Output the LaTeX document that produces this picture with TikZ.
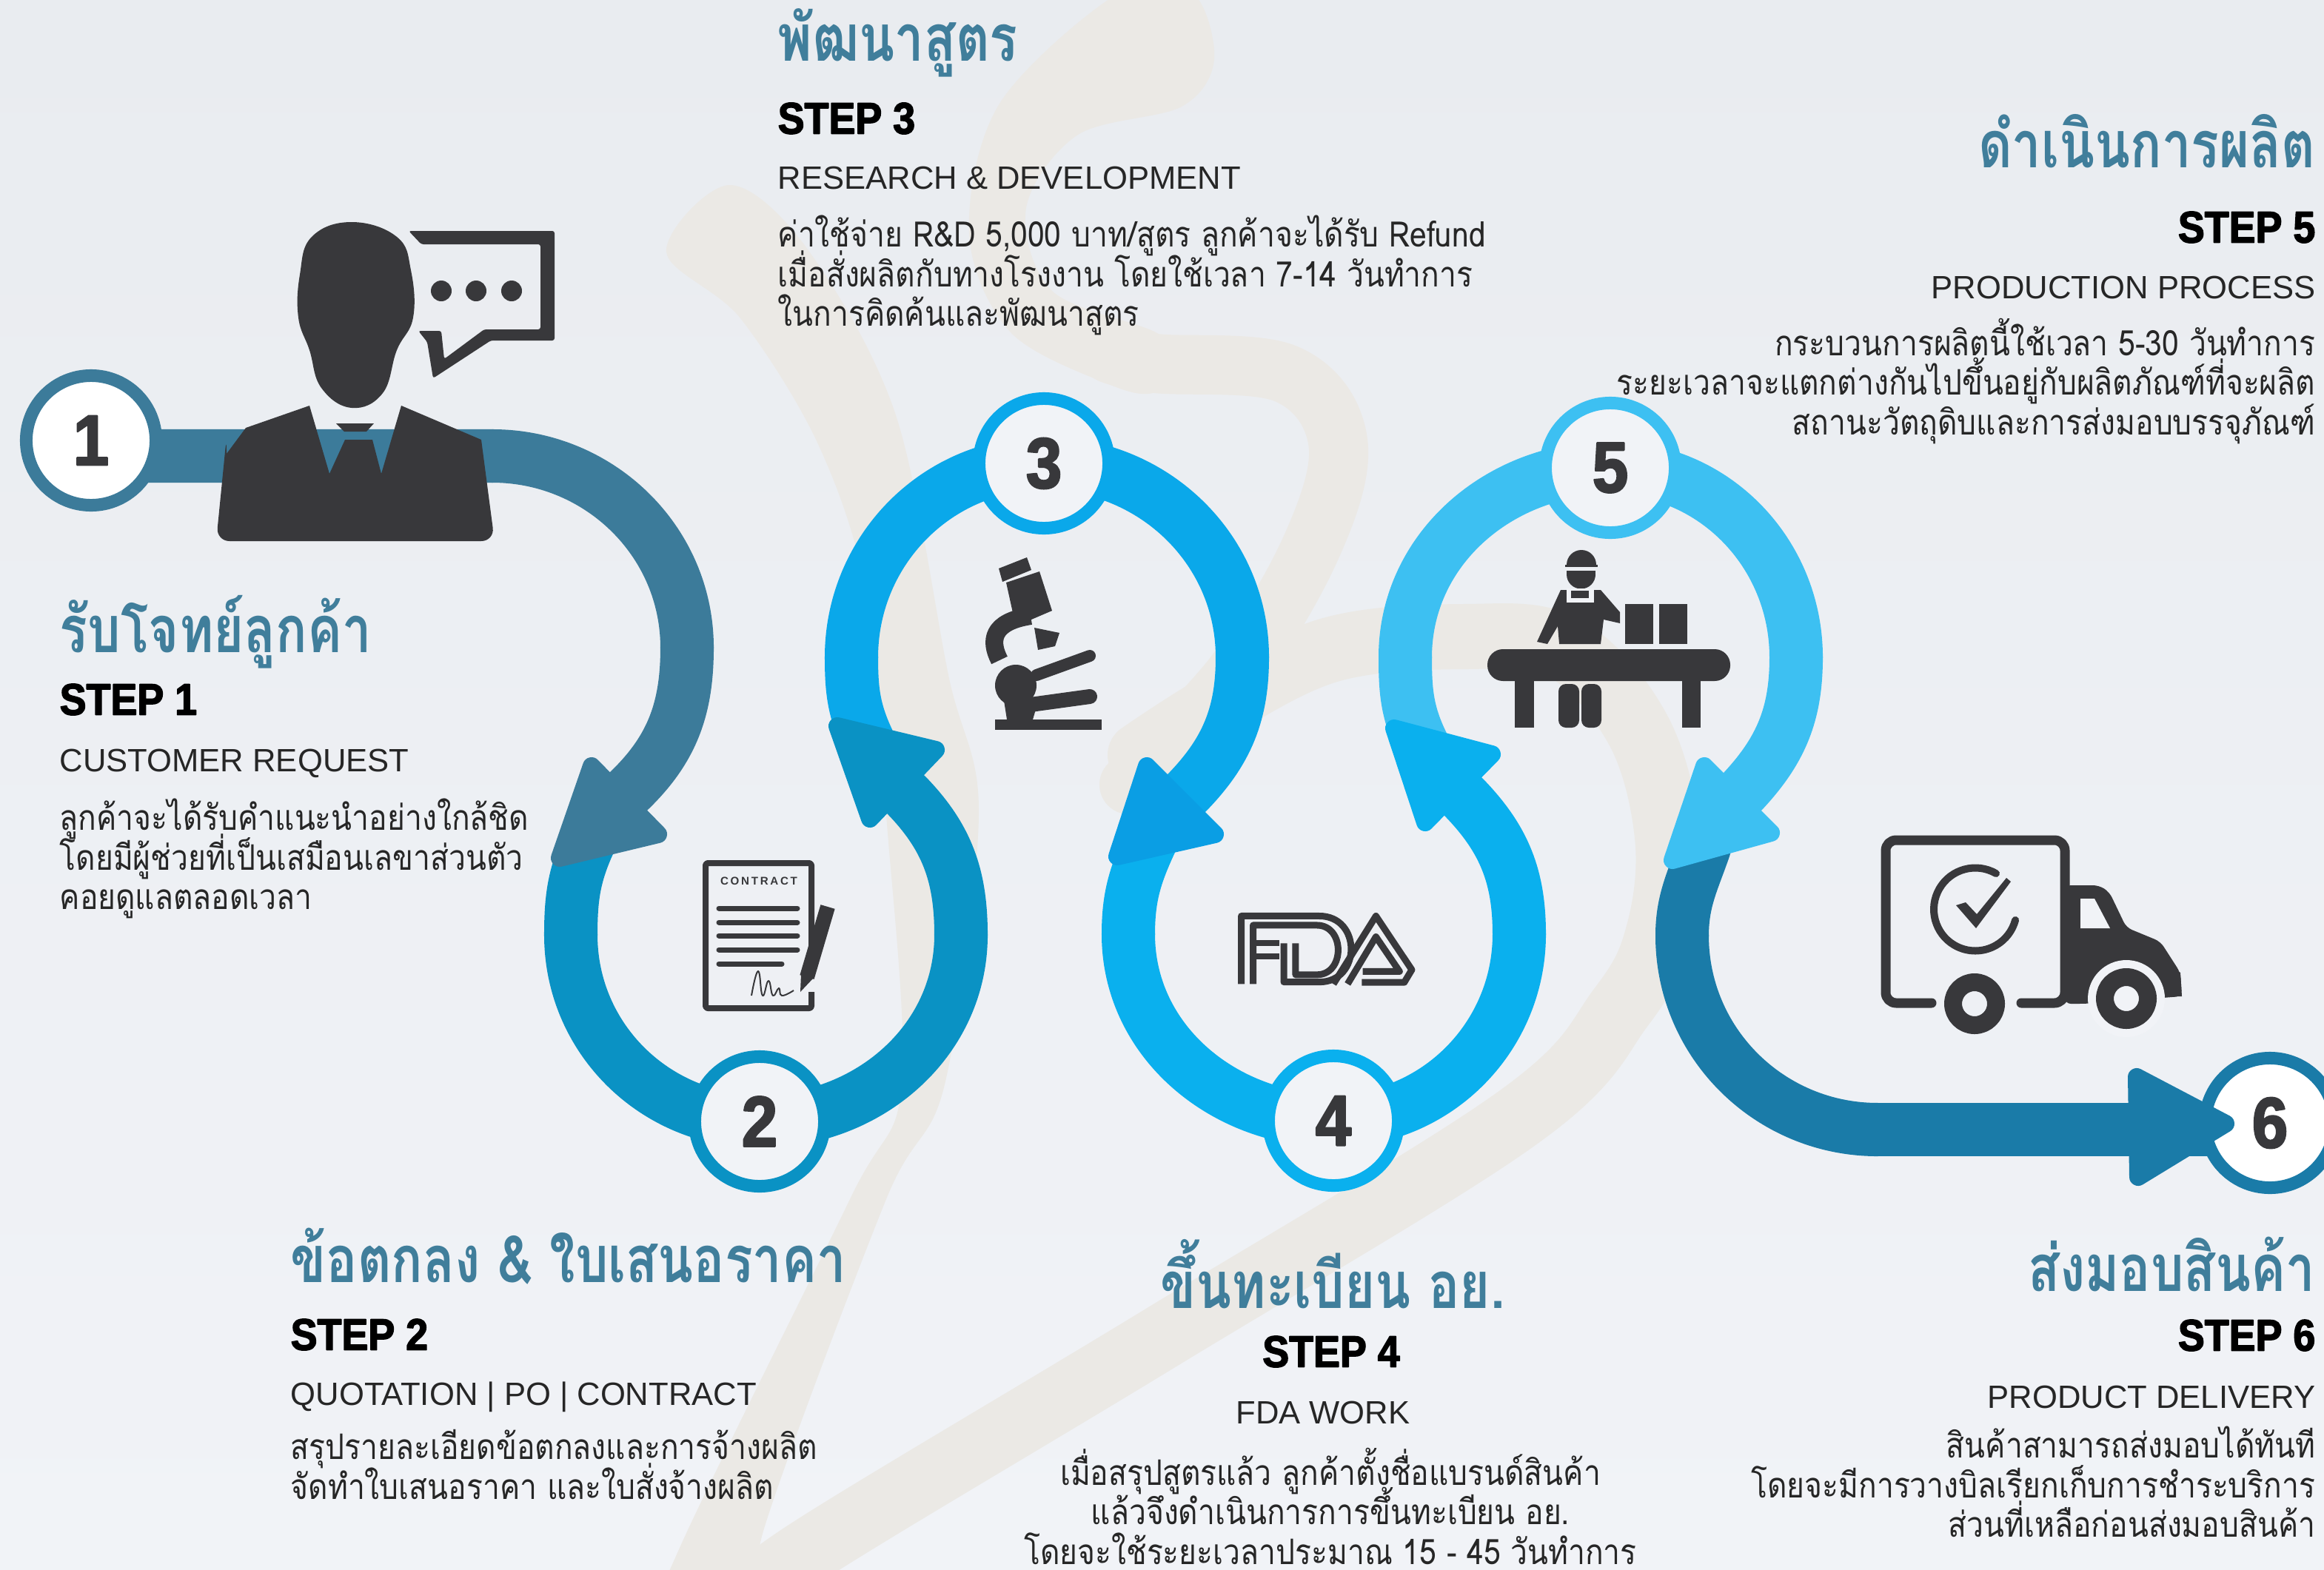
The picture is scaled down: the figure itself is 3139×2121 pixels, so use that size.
\documentclass[tikz,border=0pt]{standalone}
\usepackage{fontspec}
\setmainfont{Liberation Sans}
\newfontfamily\thaifont[Script=Thai,FakeStretch=.86]{Loma}
\newfontfamily\thaihead[Script=Thai,FakeStretch=.8]{Loma}
\newfontfamily\stepfont[FakeStretch=.9,FakeBold=2.5]{Liberation Sans}
\newcommand{\bodyfont}{\thaifont\fontsize{13.5}{15.3}\selectfont\setlength{\lineskiplimit}{-30pt}}
\usetikzlibrary{backgrounds}

\definecolor{paper}{HTML}{E9ECF0}
\definecolor{holefill}{HTML}{F1F3F7}
\definecolor{markcol}{HTML}{EBE9E5}
\definecolor{ink}{HTML}{38383B}
\definecolor{headcol}{HTML}{407E9B}
\definecolor{cone}{HTML}{3C7B9A}
\definecolor{ctwo}{HTML}{0A92C4}
\definecolor{cthree}{HTML}{0AA8EA}
\definecolor{cthreetip}{HTML}{0A9EE4}
\definecolor{cfour}{HTML}{0AB0EE}
\definecolor{cfive}{HTML}{3DC0F2}
\definecolor{csix}{HTML}{1A7BA8}

\begin{document}
\begin{tikzpicture}[x=.01cm,y=-.01cm,line join=round]
  \tikzstyle{every number}=[circle,inner sep=0pt,minimum size=1.75cm,line width=.17cm,font=\stepfont\bfseries\fontsize{27.5}{30}\selectfont,text=ink]
  \tikzstyle{band}=[line width=.72cm,line cap=round]
  \tikzstyle{tip}=[line width=.24cm]
  \tikzstyle{headtext}=[inner sep=0pt,text=headcol,font=\thaihead\bfseries\fontsize{25}{28}\selectfont]
  \tikzstyle{steptext}=[inner sep=0pt,text=black,font=\stepfont\bfseries\fontsize{17}{20}\selectfont]
  \tikzstyle{subtext}=[inner sep=0pt,text=black!85,font=\fontsize{12.4}{14}\selectfont]
  \tikzstyle{bodytext}=[inner sep=0pt,text=black!85,font=\bodyfont]

  \useasboundingbox (0,0) rectangle (3139,2121);

  \node[every number,draw=cone,fill=white]     (s1) at (123,595)   {1};
  \node[every number,draw=ctwo,fill=holefill]  (s2) at (1026,1515) {2};
  \node[every number,draw=cthree,fill=holefill](s3) at (1410,626)  {3};
  \node[every number,draw=cfour,fill=holefill] (s4) at (1801,1514) {4};
  \node[every number,draw=cfive,fill=holefill] (s5) at (2175,632)  {5};
  \node[every number,draw=csix,fill=white]     (s6) at (3066,1517) {6};

  \coordinate (a1) at ([yshift=-.21cm]s1.center);
  \coordinate (t1) at (665,616);
  \coordinate (r1) at (928,875);
  \coordinate (h1) at (850,1068);
  \coordinate (a2) at (797,1135);
  \coordinate (l2) at (771,1263);
  \coordinate (r2) at (1298,1263);
  \coordinate (h2) at (1225,1075);
  \coordinate (a3) at (1172,1000);
  \coordinate (l3) at (1150,888);
  \coordinate (r3) at (1678,888);
  \coordinate (h3) at (1604,1070);
  \coordinate (a4) at (1555,1135);
  \coordinate (l4) at (1524,1262);
  \coordinate (r4) at (2052,1262);
  \coordinate (h4) at (1978,1078);
  \coordinate (a5) at (1921,1005);
  \coordinate (l5) at (1898,888);
  \coordinate (r5) at (2426,888);
  \coordinate (h5) at (2354,1069);
  \coordinate (a6) at (2302,1145);
  \coordinate (l6) at (2272,1264);
  \coordinate (b6) at (2536,1526);

  \begin{scope}[on background layer]
    \fill[top color=paper,bottom color=holefill] (0,0) rectangle (3139,2121);

    % the pale mark behind everything
    \fill[markcol] plot[smooth cycle,tension=.55] coordinates {(900,340) (985,250) (1091,337) (1210,561) (1281,912) (1322,1100) (1276,1465) (1197,1620) (1032,2065) (1020,2200) (890,2200) (918,2091) (1148,1620) (1218,1465) (1197,1100) (1170,800) (1105,600) (1000,430)};
    \fill[markcol] plot[smooth cycle,tension=.55] coordinates {(1512,-10) (1350,140) (1309,316) (1365,449) (1500,520) (1561,530) (1600,490) (1561,449) (1421,393) (1386,281) (1456,182) (1596,144) (1640,80) (1610,-10)};
    \draw[markcol,line width=.8cm,line cap=round] plot[smooth,tension=.6] coordinates {(1500,478) (1561,491) (1737,505) (1807,596) (1772,737) (1667,912) (1525,1060)};
    \draw[markcol,line width=.88cm,line cap=round] plot[smooth,tension=.6] coordinates {(1540,1020) (1650,950) (1800,877) (1979,860) (2112,875) (2212,985) (2252,1130) (2240,1260) (2190,1360) (2050,1510) (1570,1806) (1100,2090) (1000,2170)};

    \path (a1) edge [band,cone] (t1)
          (t1) edge [band,cone,out=0,in=90] (r1)
          (r1) edge [band,cone,out=-90,in=44] (h1)
          (a2) edge [band,ctwo,out=245,in=90] (l2)
          (l2) edge [band,ctwo,out=-90,in=180] (s2.center)
          (s2.center) edge [band,ctwo,out=0,in=-90] (r2)
          (r2) edge [band,ctwo,out=90,in=-46] (h2)
          (a3) edge [band,cthree,out=115,in=-90] (l3)
          (l3) edge [band,cthree,out=90,in=180] (s3.center)
          (s3.center) edge [band,cthree,out=0,in=90] (r3)
          (r3) edge [band,cthree,out=-90,in=46] (h3)
          (a4) edge [band,cfour,out=245,in=90] (l4)
          (l4) edge [band,cfour,out=-90,in=180] (s4.center)
          (s4.center) edge [band,cfour,out=0,in=-90] (r4)
          (r4) edge [band,cfour,out=90,in=-46] (h4)
          (a5) edge [band,cfive,out=116,in=-90] (l5)
          (l5) edge [band,cfive,out=90,in=180] (s5.center)
          (s5.center) edge [band,cfive,out=0,in=90] (r5)
          (r5) edge [band,cfive,out=-90,in=47] (h5)
          (a6) edge [band,csix,out=251,in=90] (l6)
          (l6) edge [band,csix,out=-90,in=180] (b6)
          (b6) edge [band,csix] (s6.center |- b6);
  \end{scope}

  % arrow heads
  \filldraw[tip,cone]      (756,1159)  -- (799,1035)  -- (889,1127)  -- cycle;
  \filldraw[tip,ctwo]      (1131,981)  -- (1264,1013) -- (1175,1106) -- cycle;
  \filldraw[tip,cthreetip] (1509,1157) -- (1549,1035) -- (1641,1127) -- cycle;
  \filldraw[tip,cfour]     (1883,984)  -- (2015,1019) -- (1925,1111) -- cycle;
  \filldraw[tip,cfive]     (2259,1162) -- (2302,1035) -- (2392,1125) -- cycle;
  \filldraw[tip,csix]      (2886,1455) -- (3006,1518) -- (2888,1590) -- cycle;

  % customer
  \fill[ink] plot[smooth cycle,tension=.7] coordinates {(475,300) (421,320) (405,371) (403,429) (418,473) (434,524) (475,551) (517,531) (536,473) (558,429) (555,365) (536,320)};
  \fill[ink,rounded corners=.18cm] (292,731) -- (306,590) [sharp corners] -- (306,613) -- (332,578) -- (418,548) -- (445,640) -- (466,594) -- (503,594) -- (515,640) -- (542,548) -- (650,594) [rounded corners=.18cm] -- (668,731) -- cycle;
  \fill[ink] (454,572) -- (505,572) -- (495,583) -- (465,583) -- cycle;
  \fill[ink,rounded corners=.03cm] (552,312) -- (749,312) -- (749,460) -- (663,460) -- (585,511) -- (577,462) -- (565,447) -- (596,447) -- (600,485) -- (654,445) -- (730,445) -- (730,330) -- (569,330) -- cycle;
  \foreach \dotx in {596,643,691}
    \fill[ink] (\dotx,393) circle (14);

  % contract
  \draw[ink,line width=.08cm,rounded corners=.03cm] (1096,1290) -- (1096,1166) -- (953,1166) -- (953,1362) -- (1096,1362) -- (1096,1340);
  \node[inner sep=0pt,text=ink,font=\bfseries\fontsize{4.3}{5}\selectfont\addfontfeature{LetterSpace=18}] (contractword) at (1025,1190) {CONTRACT};
  \foreach \liney in {1227,1246,1264,1283}
    \draw[ink,line width=.07cm,line cap=round] (971,\liney) -- (1077,\liney);
  \draw[ink,line width=.07cm,line cap=round] (971,1302) -- (1056,1302);
  \draw[ink,line width=.02cm] plot[smooth,tension=.8] coordinates {(1015,1345) (1024,1312) (1030,1345) (1038,1325) (1044,1345) (1052,1335) (1056,1345) (1072,1338)};
  \draw[ink,line width=.2cm] (1118,1225) -- (1090,1320);
  \fill[ink] (1081,1340) -- (1082,1316) -- (1098,1322) -- cycle;

  % microscope
  \fill[ink] (1344,972) rectangle (1488,986);
  \fill[ink] (1349,768) -- (1387,753) -- (1393,770) -- (1354,786) -- cycle;
  \fill[ink] (1359,787) -- (1404,772) -- (1421,825) -- (1372,846) -- cycle;
  \draw[ink,line width=.24cm] (1392,832) .. controls (1340,840) and (1336,865) .. (1350,892);
  \fill[ink] (1397,848) -- (1431,855) -- (1425,873) -- (1402,878) -- cycle;
  \draw[ink,line width=.16cm,line cap=round] (1400,912) -- (1472,886);
  \fill[ink] (1372,926) circle (28);
  \draw[ink,line width=.2cm,line cap=round] (1392,952) -- (1472,941);
  \fill[ink] (1355,940) -- (1400,955) -- (1395,972) -- (1360,972) -- cycle;

  % FDA
  \begin{scope}[shift={(1450,900)},x=.00638cm,y=-.00446cm]
    \draw[ink,line width=.09cm] (355,963) -- (355,757) -- (520,757) .. controls (610,757) and (610,957) .. (520,957) -- (445,957) -- (445,840);
    \draw[ink,line width=.09cm] (380,963) -- (380,785) -- (515,785) .. controls (575,785) and (575,935) .. (515,935) -- (470,935) -- (470,840);
    \draw[ink,line width=.08cm] (380,840) -- (435,840);
    \draw[ink,line width=.08cm] (380,880) -- (435,880);
    \draw[ink,line width=.09cm] (550,963) -- (640,757) -- (716,920) -- (700,958) -- (610,958);
    \draw[ink,line width=.09cm] (580,963) -- (640,820) -- (690,925) -- (612,925);
  \end{scope}

  % worker
  \fill[ink] (2116,763) arc[start angle=180,end angle=360,radius=20];
  \fill[ink] (2114,763) rectangle (2158,766);
  \fill[ink] (2116,771) rectangle (2155,778);
  \fill[ink] (2155,776) arc[start angle=0,end angle=180,radius=19.5];
  \fill[ink] (2108,797) -- (2162,797) -- (2188,827) -- (2188,842) -- (2166,837) -- (2162,870) -- (2106,870) -- (2104,846) -- (2090,870) -- (2076,867) -- cycle;
  \fill[holefill] (2116,795) rectangle (2153,814);
  \fill[ink] (2122,798) rectangle (2146,808);
  \fill[ink] (2195,816) rectangle (2233,870);
  \fill[ink] (2241,816) rectangle (2279,870);
  \fill[ink,rounded corners=.21cm] (2009,877) rectangle (2337,920);
  \fill[ink] (2046,915) rectangle (2072,983);
  \fill[ink] (2272,915) rectangle (2297,983);
  \fill[ink,rounded corners=.1cm] (2105,924) rectangle (2133,983);
  \fill[ink,rounded corners=.1cm] (2136,924) rectangle (2163,983);

  % truck
  \draw[ink,line width=.13cm,line cap=round,rounded corners=.14cm] (2609,1355) -- (2547,1355) -- (2547,1135) -- (2789,1135) -- (2789,1355) -- (2730,1355);
  \draw[ink,line width=.1cm,line cap=round] (2696,1180) arc[start angle=-60,end angle=-345,radius=56];
  \fill[ink] (2642,1223) -- (2655,1219) -- (2670,1235) -- (2710,1186) -- (2716,1191) -- (2669,1254) -- cycle;
  \fill[ink,rounded corners=.08cm] (2789,1196) -- (2835,1196) -- (2849,1205) -- (2872,1253) -- (2918,1272) -- (2945,1314) -- (2947,1346) -- (2816,1356) -- (2789,1356) -- cycle;
  \fill[holefill] (2810,1214) -- (2829,1214) -- (2850,1254) -- (2810,1254) -- cycle;
  \fill[holefill] (2872,1349) circle (52);
  \fill[ink] (2925,1346) -- (2947,1346) -- (2945,1314) -- (2925,1300) -- cycle;
  \draw[ink,line width=.24cm] (2872,1349) circle (29);
  \draw[ink,line width=.24cm] (2667,1356) circle (29);

  % texts
  \node[headtext,anchor=west] (headone) at (80,854) {รับโจทย์ลูกค้า};
  \node[steptext,anchor=west] (stepone) at (80,945) {STEP 1};
  \node[subtext,anchor=west]  (subone)  at (80,1031) {CUSTOMER REQUEST};
  \node[bodytext,anchor=north west,align=left] (bodyone) at (80,1078) {\strut ลูกค้าจะได้รับคำแนะนำอย่างใกล้ชิด\\\strut โดยมีผู้ช่วยที่เป็นเสมือนเลขาส่วนตัว\\\strut คอยดูแลตลอดเวลา};

  \node[headtext,anchor=west] (headtwo) at (392,1697) {ข้อตกลง \& ใบเสนอราคา};
  \node[steptext,anchor=west] (steptwo) at (392,1803) {STEP 2};
  \node[subtext,anchor=west]  (subtwo)  at (392,1887) {QUOTATION | PO | CONTRACT};
  \node[bodytext,anchor=north west,align=left] (bodytwo) at (392,1931) {\strut สรุปรายละเอียดข้อตกลงและการจ้างผลิต\\\strut จัดทำใบเสนอราคา และใบสั่งจ้างผลิต};

  \node[headtext,anchor=west] (headthree) at (1050,58) {พัฒนาสูตร};
  \node[steptext,anchor=west] (stepthree) at (1050,160) {STEP 3};
  \node[subtext,anchor=west]  (subthree)  at (1050,240) {RESEARCH \& DEVELOPMENT};
  \node[bodytext,anchor=north west,align=left] (bodythree) at (1050,290) {\strut ค่าใช้จ่าย R\&D 5,000 บาท/สูตร ลูกค้าจะได้รับ Refund\\\strut เมื่อสั่งผลิตกับทางโรงงาน โดยใช้เวลา 7-14 วันทำการ\\\strut ในการคิดค้นและพัฒนาสูตร};

  \node[headtext] (headfour) at (1800,1721) {ขึ้นทะเบียน อย.};
  \node[steptext] (stepfour) at (1798,1826) {STEP 4};
  \node[subtext]  (subfour)  at (1787,1908) {FDA WORK};
  \node[bodytext,anchor=north,align=center] (bodyfour) at (1797,1955) {\strut เมื่อสรุปสูตรแล้ว ลูกค้าตั้งชื่อแบรนด์สินค้า\\\strut แล้วจึงดำเนินการการขึ้นทะเบียน อย.\\\strut โดยจะใช้ระยะเวลาประมาณ 15 - 45 วันทำการ};

  \node[headtext,anchor=east] (headfive) at (3128,191) {ดำเนินการผลิต};
  \node[steptext,anchor=east] (stepfive) at (3128,307) {STEP 5};
  \node[subtext,anchor=east]  (subfive)  at (3128,388) {PRODUCTION PROCESS};
  \node[bodytext,anchor=north east,align=right] (bodyfive) at (3128,429) {\strut กระบวนการผลิตนี้ใช้เวลา 5-30 วันทำการ\\\strut ระยะเวลาจะแตกต่างกันไปขึ้นอยู่กับผลิตภัณฑ์ที่จะผลิต\\\strut สถานะวัตถุดิบและการส่งมอบบรรจุภัณฑ์};

  \node[headtext,anchor=east] (headsix) at (3128,1708) {ส่งมอบสินค้า};
  \node[steptext,anchor=east] (stepsix) at (3128,1804) {STEP 6};
  \node[subtext,anchor=east]  (subsix)  at (3128,1887) {PRODUCT DELIVERY};
  \node[bodytext,anchor=north east,align=right] (bodysix) at (3128,1926) {\strut สินค้าสามารถส่งมอบได้ทันที\\\strut โดยจะมีการวางบิลเรียกเก็บการชำระบริการ\\\strut ส่วนที่เหลือก่อนส่งมอบสินค้า};
\end{tikzpicture}
\end{document}
